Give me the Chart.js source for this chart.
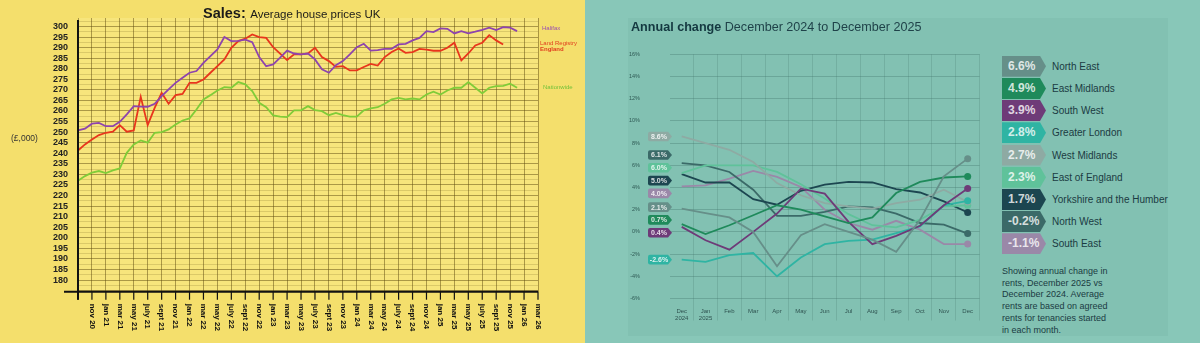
<!DOCTYPE html>
<html>
<head>
<meta charset="utf-8">
<script src="https://cdn.jsdelivr.net/npm/chart.js@4.4.1/dist/chart.umd.min.js"></script>
<style>
  body { margin: 0; width: 1200px; height: 343px; overflow: hidden; font-family: "Liberation Sans", Arial, sans-serif; }
  #sales { position: absolute; left: 0; top: 0; width: 585px; height: 343px; background: #f4df6c; }
  #rents { position: absolute; left: 585px; top: 0; width: 615px; height: 343px; background: #88c7b8; }
  .card { position: absolute; left: 43px; top: 18px; width: 540px; height: 318px; background: #82c1b2; }
  canvas { position: absolute; top: 0; }
  .txt { position: absolute; white-space: nowrap; }
  .row { position: absolute; left: 417px; height: 21px; display: flex; align-items: center; }
  .tag { width: 44px; height: 21px; box-sizing: border-box; padding-left: 6px; line-height: 21px;
         font-weight: bold; font-size: 12px; color: rgba(255,255,255,0.8);
         clip-path: polygon(0 0, 38px 0, 44px 50%, 38px 100%, 0 100%); }
  .name { margin-left: 6px; font-size: 10px; color: #1b3b42; }
</style>
</head>
<body>
<div id="sales">
  <canvas id="salesChart" width="585" height="343" style="left:0"></canvas>
  <div class="txt" style="left:203px; top:4px; color:#1a1a1a;"><b style="font-size:14.5px">Sales:</b> <span style="font-size:11.5px">Average house prices UK</span></div>
  <div class="txt" style="left:11px; top:133px; font-size:8.5px; color:#333;">(£,000)</div>
  <div class="txt" style="left:542px; top:25px; font-size:6px; color:#9a4fb0;">Halifax</div>
  <div class="txt" style="left:540px; top:40px; font-size:6px; color:#e0401e; line-height:6px;">Land Registry<br><b>England</b></div>
  <div class="txt" style="left:543px; top:84px; font-size:6px; color:#74c23a;">Nationwide</div>
</div>
<div id="rents">
  <div class="card"></div>
  <canvas id="rentChart" width="400" height="343" style="left:15px"></canvas>
  <div class="txt" style="left:46px; top:20px; font-size:12.6px; color:#1f4249;"><b style="color:#143840">Annual change</b> December 2024 to December 2025</div>
  <div id="legend"></div>
  <div class="txt" style="left:417px; top:266px; font-size:9px; line-height:11.7px; color:#1b3b42;">Showing annual change in<br>rents, December 2025 vs<br>December 2024. Average<br>rents are based on agreed<br>rents for tenancies started<br>in each month.</div>
</div>

<script>
// ---- Sales: average house prices UK (£,000), monthly from sept 20
const monthNames = ['jan', 'feb', 'mar', 'apr', 'may', 'june', 'july', 'aug', 'sept', 'oct', 'nov', 'dec'];
const months = [];
for (let m = 8, yr = 20; !(yr === 26 && m === 3); m++) {
    if (m === 12) { m = 0; yr++; }
    months.push(monthNames[m] + ' ' + yr);
}
const yTicks = [180, 185, 190, 195, 200, 205, 210, 215, 220, 225, 230, 235, 240, 245, 250, 255, 260, 265, 270, 275, 280, 285, 290, 295, 300];

const halifax = [250.8, 251.6, 254.0, 254.4, 252.8, 252.8, 254.9, 258.4, 262.3, 262.1, 262.0, 263.4, 267.0, 270.2, 273.3, 275.7, 278.1, 278.9, 282.8, 286.0, 289.1, 295.0, 293.1, 293.2, 293.8, 292.6, 285.5, 281.2, 282.0, 285.2, 288.6, 287.2, 286.8,
    287.2, 284.4, 279.7, 278.1, 281.7, 283.6, 286.8, 290.2, 291.8, 288.6, 288.8, 289.4, 289.4, 291.5, 291.8, 293.4, 294.6, 297.8, 297.3, 299.1, 298.9, 296.7, 297.8, 296.7, 297.5, 298.4, 299.4, 298.3, 299.7, 299.4, 297.8];
const landRegistry = [241.3, 244.2, 246.5, 248.6, 249.7, 250.2, 253.3, 250.2, 250.8, 266.7, 253.3, 261.5, 268.6, 263.4, 267.5, 268.1, 273.3, 273.3, 274.9, 278.1, 281.2, 284.4, 289.9, 293.1, 294.2, 296.2, 295.0, 294.6, 290.2, 287.1, 284.1, 286.8, 286.8,
    287.2, 289.9, 285.5, 283.6, 280.9, 281.2, 279.2, 279.2, 280.8, 282.3, 281.5, 285.5, 287.9, 289.6, 287.5, 287.9, 289.4, 289.0, 288.5, 288.5, 289.9, 292.3, 283.9, 287.2, 291.0, 292.3, 295.9, 293.4, 291.5];
const nationwide = [227.0, 229.2, 230.8, 231.6, 230.6, 231.9, 232.8, 240.2, 244.2, 246.1, 245.0, 249.7, 250.0, 251.3, 253.6, 255.5, 256.5, 260.7, 265.5, 267.5, 269.7, 271.3, 271.0, 273.7, 272.6, 269.4, 263.9, 261.8, 257.9, 257.3, 257.1, 260.3, 260.3,
    262.3, 260.4, 259.9, 258.0, 259.1, 258.0, 257.3, 257.3, 260.3, 261.2, 261.8, 263.4, 265.5, 266.2, 265.5, 265.9, 265.5, 267.8, 269.1, 267.8, 269.7, 271.0, 271.0, 273.7, 271.0, 268.3, 271.0, 271.8, 271.9, 272.9, 271.0];

// ---- Rents: annual change (%)
const rentMonths = [['Dec', '2024'], ['Jan', '2025'], 'Feb', 'Mar', 'Apr', 'May', 'Jun', 'Jul', 'Aug', 'Sep', 'Oct', 'Nov', 'Dec'];
const regions = ['North East', 'East Midlands', 'South West', 'Greater London', 'West Midlands', 'East of England', 'Yorkshire and the Humber', 'North West', 'South East'];
const changeLabels = ['6.6%', '4.9%', '3.9%', '2.8%', '2.7%', '2.3%', '1.7%', '-0.2%', '-1.1%'];
const startLabels = ['2.1%', '0.7%', '0.4%', '-2.6%', '8.6%', '6.0%', '5.0%', '6.1%', '4.0%'];
const northEast = [2.1, 1.7, 1.3, 0.0, -3.1, -0.3, 0.7, 0.0, -0.7, -1.8, 1.1, 5.0, 6.6];
const eastMidlands = [0.7, -0.2, 0.6, 1.5, 2.4, 2.0, 1.4, 0.8, 1.3, 3.5, 4.5, 4.9, 5.0];
const southWest = [0.45, -0.75, -1.6, 0.0, 1.65, 3.9, 3.45, 0.9, -1.1, -0.35, 0.55, 2.4, 3.9];
const greaterLondon = [-2.5, -2.7, -2.1, -1.9, -4.0, -2.3, -1.1, -0.8, -0.7, -0.1, 0.5, 2.4, 2.8];
const westMidlands = [8.6, 8.0, 7.4, 6.3, 4.4, 3.3, 2.6, 2.3, 2.1, 2.6, 2.9, 3.8, 2.7];
const eastOfEngland = [5.3, 6.0, 6.0, 6.0, 5.4, 4.3, 3.0, 1.6, 0.6, 0.4, 1.1, 2.3, 2.4];
const yorkshire = [5.2, 4.45, 4.45, 2.95, 2.45, 3.7, 4.25, 4.5, 4.45, 3.85, 3.55, 2.75, 1.75];
const northWest = [6.2, 6.0, 5.4, 3.8, 1.45, 1.45, 1.8, 2.3, 2.2, 1.65, 0.8, 0.65, -0.15];
const southEast = [4.1, 4.2, 4.8, 5.5, 4.95, 4.05, 2.0, 0.8, 0.2, 1.0, 0.2, -1.1, -1.1];
const rentSeries = [northEast, eastMidlands, southWest, greaterLondon, westMidlands, eastOfEngland, yorkshire, northWest, southEast];
const rentColors = ['#668f89', '#1f8a5b', '#6e3b78', '#2fb4a3', '#8eaaa3', '#5fc29a', '#1c4650', '#3b6a68', '#9a88a8'];

Chart.defaults.font.family = '"Liberation Sans", Arial, sans-serif';

// plot paper + black axes + rotated month labels
const salesFrame = {
    id: 'salesFrame',
    beforeDraw(chart) {
        const { ctx, chartArea: a } = chart;
        ctx.save();
        ctx.fillStyle = '#f7e57c';
        ctx.fillRect(a.left, a.top, a.right - a.left, a.bottom - a.top);
        ctx.restore();
    },
    afterDraw(chart) {
        const { ctx, chartArea: a, scales: { x } } = chart;
        ctx.save();
        ctx.strokeStyle = '#111';
        ctx.lineWidth = 2;
        ctx.beginPath();
        ctx.moveTo(a.left, a.top + 2);
        ctx.lineTo(a.left, a.bottom + 8);
        ctx.moveTo(a.left - 14, a.bottom);
        ctx.lineTo(a.right, a.bottom);
        ctx.stroke();
        ctx.lineWidth = 1.2;
        ctx.fillStyle = '#111';
        ctx.font = 'bold 8px "Liberation Sans", Arial, sans-serif';
        ctx.textAlign = 'left';
        ctx.textBaseline = 'middle';
        months.forEach((m, i) => {
            if (i % 2) return;
            const px = x.getPixelForValue(i);
            ctx.beginPath();
            ctx.moveTo(px, a.bottom);
            ctx.lineTo(px, a.bottom + 8);
            ctx.stroke();
            if (i === 0) return;
            ctx.save();
            ctx.translate(px, a.bottom + 12);
            ctx.rotate(Math.PI / 2);
            ctx.fillText(m, 0, 0);
            ctx.restore();
        });
        ctx.restore();
    }
};

new Chart(document.getElementById('salesChart'), {
    type: 'line',
    data: {
        labels: months,
        datasets: [
            { label: 'Halifax', data: halifax, borderColor: '#8e44ad' },
            { label: 'Land Registry England', data: landRegistry, borderColor: '#e8361c' },
            { label: 'Nationwide', data: nationwide, borderColor: '#80cc38' }
        ].map(d => Object.assign(d, { borderWidth: 1.8, pointRadius: 0, tension: 0 }))
    },
    options: {
        responsive: false,
        animation: false,
        layout: { padding: { top: 18, right: 47, left: 0, bottom: 0 } },
        plugins: { legend: { display: false }, tooltip: { enabled: false } },
        scales: {
            x: {
                type: 'category',
                offset: false,
                ticks: { display: false },
                border: { display: false },
                grid: {
                    drawTicks: false,
                    color: c => (c.index % 2 === 0 ? 'rgba(95,75,15,0.5)' : 'rgba(0,0,0,0)')
                },
                afterFit: s => { s.height = 51.3; }
            },
            y: {
                min: 174.5,
                max: 304,
                afterBuildTicks: s => {
                    const t = [];
                    for (let v = 175; v <= 302.5; v += 2.5) t.push({ value: v });
                    s.ticks = t;
                },
                ticks: {
                    autoSkip: false,
                    padding: 10,
                    color: '#222',
                    font: { size: 9, weight: 'bold' },
                    callback: v => (yTicks.includes(v) ? v : '')
                },
                border: { display: false },
                grid: {
                    drawTicks: false,
                    color: c => (c.tick.value % 5 === 0 ? 'rgba(95,75,15,0.5)' : 'rgba(95,75,15,0.18)')
                },
                afterFit: s => { s.width = 78; }
            }
        }
    },
    plugins: [salesFrame]
});

// start-value tags, spread so they don't overlap
const rentBadges = {
    id: 'rentBadges',
    afterDraw(chart) {
        const { ctx, scales: { y } } = chart;
        const items = chart.data.datasets.map((ds, i) => ({
            y: y.getPixelForValue(ds.data[0]), text: startLabels[i], color: ds.borderColor
        }));
        items.sort((a, b) => a.y - b.y);
        const gap = 12.8;
        for (let n = 0; n < 300; n++) {
            for (let k = 0; k < items.length - 1; k++) {
                const d = items[k + 1].y - items[k].y;
                if (d < gap) {
                    const s = (gap - d) / 2;
                    items[k].y -= s;
                    items[k + 1].y += s;
                }
            }
        }
        ctx.save();
        ctx.font = 'bold 7px "Liberation Sans", Arial, sans-serif';
        ctx.textAlign = 'center';
        ctx.textBaseline = 'middle';
        items.forEach(it => {
            const x0 = 48, x1 = 68, tip = 72, h = 9.6, r = 2;
            const t = it.y - h / 2, b = it.y + h / 2;
            ctx.beginPath();
            ctx.moveTo(x0 + r, t);
            ctx.lineTo(x1, t);
            ctx.lineTo(tip, it.y);
            ctx.lineTo(x1, b);
            ctx.lineTo(x0 + r, b);
            ctx.quadraticCurveTo(x0, b, x0, b - r);
            ctx.lineTo(x0, t + r);
            ctx.quadraticCurveTo(x0, t, x0 + r, t);
            ctx.fillStyle = it.color;
            ctx.fill();
            ctx.fillStyle = 'rgba(255,255,255,0.82)';
            ctx.fillText(it.text, (x0 + x1) / 2 + 1, it.y + 0.5);
        });
        ctx.restore();
    }
};

new Chart(document.getElementById('rentChart'), {
    type: 'line',
    data: {
        labels: rentMonths,
        datasets: rentSeries.map((s, i) => ({
            label: regions[i],
            data: s,
            borderColor: rentColors[i],
            backgroundColor: rentColors[i],
            borderWidth: 1.8,
            tension: 0,
            pointBorderWidth: 0,
            pointRadius: c => (c.dataIndex === s.length - 1 ? 3.5 : 0)
        }))
    },
    options: {
        responsive: false,
        animation: false,
        layout: { padding: { top: 54.3, right: 20.4, left: 0, bottom: 0 } },
        plugins: { legend: { display: false }, tooltip: { enabled: false } },
        scales: {
            x: {
                type: 'category',
                offset: true,
                ticks: { color: '#2f5350', font: { size: 6 }, padding: -12.5, maxRotation: 0, autoSkip: false },
                border: { display: false },
                grid: {
                    offset: true,
                    tickLength: 22,
                    color: c => (c.index === 0 || c.index >= 13 ? 'rgba(0,0,0,0)' : 'rgba(55,105,95,0.2)')
                },
                afterFit: s => { s.height = 44.5; }
            },
            y: {
                min: -6,
                max: 16,
                ticks: { stepSize: 2, padding: 29.8, color: '#2f5a55', font: { size: 5.5 }, callback: v => v + '%' },
                border: { display: false },
                grid: { drawTicks: false, color: 'rgba(55,105,95,0.3)' },
                afterFit: s => { s.width = 69.8; }
            }
        }
    },
    plugins: [rentBadges]
});

// right-hand list of December changes
const legend = document.getElementById('legend');
regions.forEach((name, i) => {
    const row = document.createElement('div');
    row.className = 'row';
    row.style.top = (55.7 + i * 22.2) + 'px';
    row.innerHTML = `<div class="tag" style="background:${rentColors[i]}">${changeLabels[i]}</div><div class="name">${name}</div>`;
    legend.appendChild(row);
});
</script>
</body>
</html>
